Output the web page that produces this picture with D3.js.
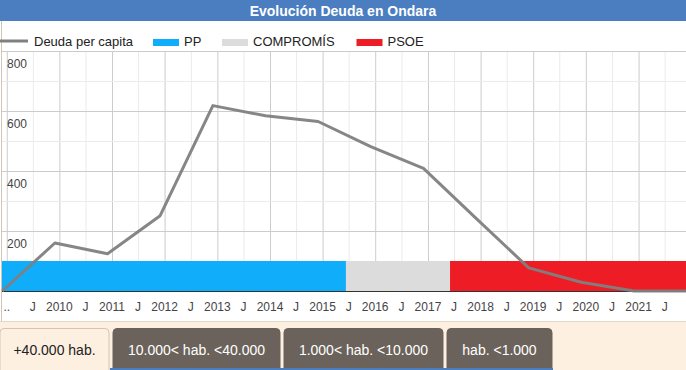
<!DOCTYPE html>
<html><head><meta charset="utf-8">
<script src="https://cdn.jsdelivr.net/npm/d3@7"></script>
<style>
html,body{margin:0;padding:0;background:#fdf0e1;}
svg{display:block;font-family:"Liberation Sans",Arial,sans-serif;}
</style></head>
<body>
<svg id="c" width="686" height="370"></svg>
<script>
// ---- data ----
const title = "Evolución Deuda en Ondara";
const years = [2009,2010,2011,2012,2013,2014,2015,2016,2017,2018,2019,2020,2021,2022];
const debtPerCapita = [0,160,124,251,618,584,565,481,409,242,77,29,0,0];
const parties = ["PP","COMPROMÍS","PSOE"];
const partyColors = ["#10aefa","#dcdcdc","#ee1c25"];
const partyStart = ["2008-11-29","2015-06-12","2017-06-03"];
const partyEnd = ["2015-06-12","2017-06-03","2021-11-26"];
const partyBandValue = 100;
const xTickLabels = ["..","J","2010","J","2011","J","2012","J","2013","J","2014","J","2015","J","2016","J","2017","J","2018","J","2019","J","2020","J","2021","J"];
const yTicks = [100,200,300,400,500,600,700,800];
const yLabels = [200,400,600,800];
const tabs = ["+40.000 hab.","10.000< hab. <40.000","1.000< hab. <10.000","hab. <1.000"];

// ---- layout ----
const svg = d3.select("#c");
const parse = d3.timeParse("%Y-%m-%d");
const x = d3.scaleTime().domain([parse("2008-11-29"), parse("2021-11-26")]).range([2, 686]);
const y = d3.scaleLinear().domain([0, 800]).range([291, 51]);

// chart container
svg.append("rect").attr("x",0).attr("y",0).attr("width",686).attr("height",322).attr("fill","#fff");
svg.append("line").attr("x1",1.5).attr("x2",1.5).attr("y1",21).attr("y2",322).attr("stroke","#cfc6b8");
svg.append("line").attr("x1",0).attr("x2",686).attr("y1",321.5).attr("y2",321.5).attr("stroke","#e2d8c8");

// title bar
svg.append("rect").attr("x",0).attr("y",0).attr("width",686).attr("height",21).attr("fill","#4a7ec0");
svg.append("text").attr("x",343).attr("y",16).attr("text-anchor","middle")
  .attr("fill","#fff").attr("font-weight","bold").attr("font-size",14).text(title);

// legend
const lg = svg.append("g");
lg.append("line").attr("x1",0).attr("x2",28).attr("y1",41).attr("y2",41).attr("stroke","#808080").attr("stroke-width",3);
lg.append("text").attr("x",34).attr("y",46).attr("font-size",13).attr("fill","#222").text("Deuda per capita");
const legX = [153,222,356.5];
parties.forEach((p,i)=>{
  lg.append("rect").attr("x",legX[i]).attr("y",39).attr("width",26).attr("height",7).attr("fill",partyColors[i]);
  lg.append("text").attr("x",legX[i]+31).attr("y",46).attr("font-size",13).attr("fill","#222").text(p);
});

// gridlines
const tickDates = d3.timeMonth.every(6).range(parse("2009-01-01"), parse("2021-12-01"));
const grid = svg.append("g");
grid.selectAll("line.v").data(tickDates).join("line")
  .attr("x1",d=>x(d)+0.5).attr("x2",d=>x(d)+0.5).attr("y1",51).attr("y2",291)
  .attr("stroke",d=>d.getMonth()===0?"#cccccc":"#ebebeb");
grid.selectAll("line.h").data(yTicks).join("line")
  .attr("x1",2).attr("x2",686).attr("y1",d=>y(d)+0.5).attr("y2",d=>y(d)+0.5)
  .attr("stroke",d=>d%200===0?"#cccccc":"#ebebeb");

// party bands
svg.append("g").selectAll("rect").data(parties).join("rect")
  .attr("x",(d,i)=>x(parse(partyStart[i])))
  .attr("width",(d,i)=>x(parse(partyEnd[i]))-x(parse(partyStart[i])))
  .attr("y",y(partyBandValue)).attr("height",y(0)-y(partyBandValue))
  .attr("fill",(d,i)=>partyColors[i]);

// x axis baseline
svg.append("line").attr("x1",2).attr("x2",686).attr("y1",291.5).attr("y2",291.5).attr("stroke","#333");

// y labels
svg.append("g").selectAll("text").data(yLabels).join("text")
  .attr("x",7).attr("y",d=>y(d)+17).attr("font-size",12).attr("fill","#444").text(d=>d);

// x labels
svg.append("g").selectAll("text").data(tickDates).join("text")
  .attr("x",d=>x(d)).attr("y",310.5).attr("text-anchor","middle")
  .attr("font-size",12).attr("fill","#444").text((d,i)=>xTickLabels[i]);

// data line
const pts = years.map((yr,i)=>({d:new Date(yr-1,11,1), v:debtPerCapita[i]}));
svg.append("path").datum(pts)
  .attr("d", d3.line().x(p=>x(p.d)).y(p=>y(p.v)))
  .attr("fill","none").attr("stroke","#7f7f7f").attr("stroke-width",3)
  .attr("stroke-linejoin","round").attr("stroke-opacity",0.95);

// tabs
const tabX = [0,113,284,447];
const tabW = [109,167,159,105];
tabs.forEach((t,i)=>{
  const active = i===0;
  const x0=tabX[i], w=tabW[i], y0=328.5, r=4, yb=370;
  svg.append("path")
    .attr("d",`M${x0},${yb} V${y0+r} Q${x0},${y0} ${x0+r},${y0} H${x0+w-r} Q${x0+w},${y0} ${x0+w},${y0+r} V${yb}`)
    .attr("fill",active?"#fdf0e1":"#6b635b")
    .attr("stroke",active?"#cfc6b8":"#6b635b");
  svg.append("text").attr("x",x0+w/2).attr("y",355).attr("text-anchor","middle")
    .attr("font-size",14).attr("fill",active?"#222":"#fff").text(t);
});
svg.append("rect").attr("x",110).attr("y",368).attr("width",443).attr("height",2).attr("fill","#4a7ec0");
</script>
</body></html>
